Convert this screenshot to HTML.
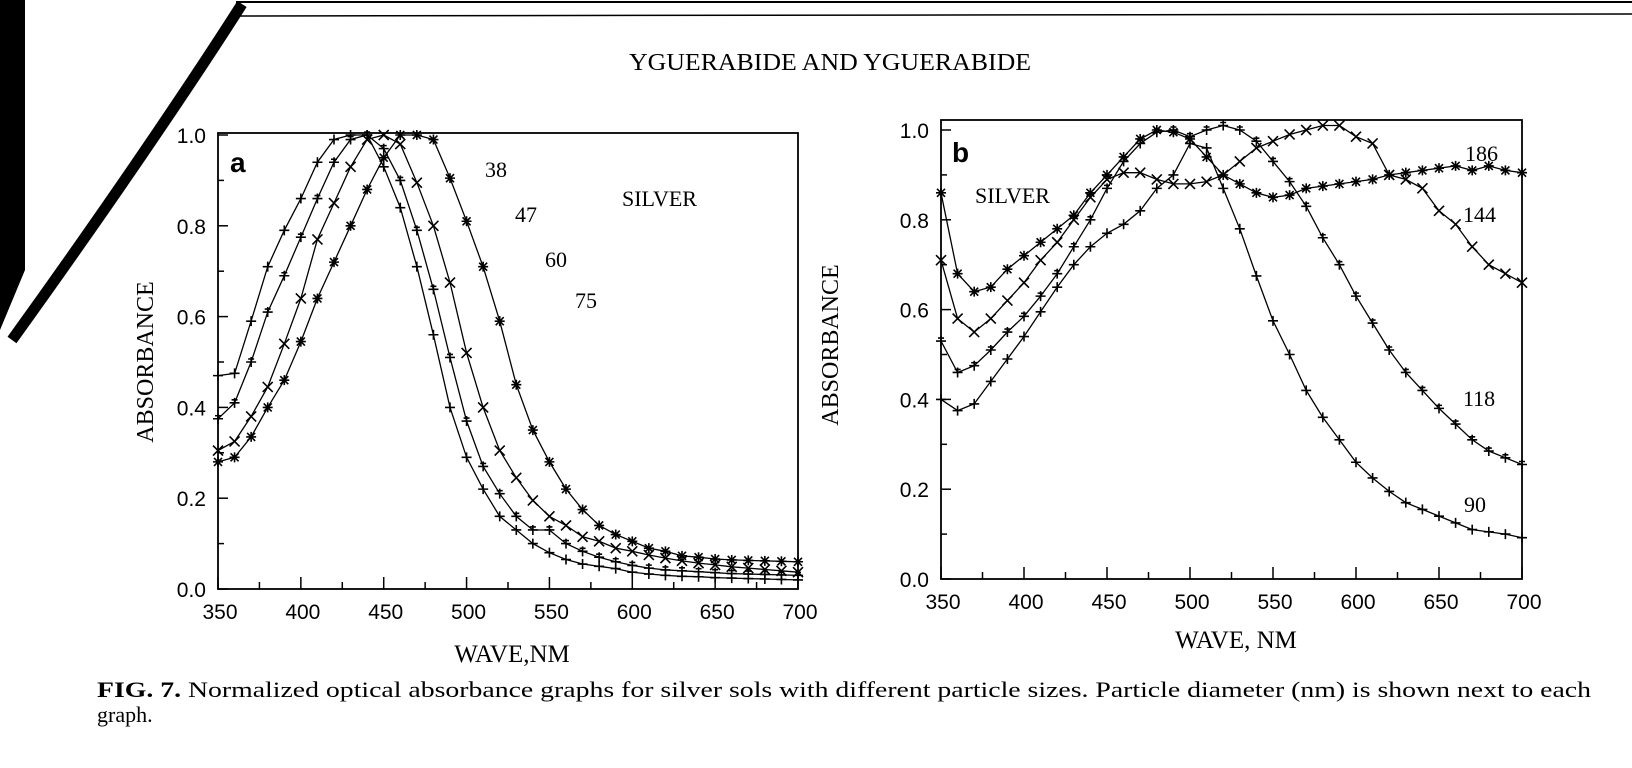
<!DOCTYPE html>
<html><head><meta charset="utf-8"><style>
html,body{margin:0;padding:0;background:#fff;}
svg{display:block;}
.serif{font-family:"Liberation Serif",serif;}
.sans{font-family:"Liberation Sans",sans-serif;}
</style></head><body>
<svg id="s" width="1632" height="768" xmlns="http://www.w3.org/2000/svg">
<rect width="1632" height="768" fill="#fff"/>
<polygon points="0,0 25,0 25,270 0,330" fill="#000"/>
<path d="M242,4 C200,70 120,190 12,340" stroke="#000" stroke-width="11" fill="none"/>
<line x1="236" y1="2" x2="1632" y2="2" stroke="#000" stroke-width="2"/>
<line x1="236" y1="16" x2="1632" y2="14" stroke="#000" stroke-width="1.5"/>
<text x="830" y="70" class="serif" font-size="24" text-anchor="middle" textLength="402" lengthAdjust="spacingAndGlyphs">YGUERABIDE AND YGUERABIDE</text>
<text x="97" y="697" class="serif" font-size="22" textLength="1494" lengthAdjust="spacingAndGlyphs"><tspan font-weight="bold">FIG. 7.</tspan>   Normalized optical absorbance graphs for silver sols with different particle sizes. Particle diameter (nm) is shown next to each</text>
<text x="97" y="722" class="serif" font-size="22">graph.</text>
<g id="g"></g>
</svg>
<script>
var NS="http://www.w3.org/2000/svg",G=document.getElementById('g');
function el(t,a,txt){var e=document.createElementNS(NS,t);for(var k in a)e.setAttribute(k,a[k]);if(txt!=null)e.textContent=txt;G.appendChild(e);return e;}
function mk(type,x,y){var s=5,d='';
 if(type=='+')d='M'+(x-s)+','+y+'h'+2*s+'M'+x+','+(y-s)+'v'+2*s;
 else if(type=='x')d='M'+(x-s)+','+(y-s)+'l'+2*s+','+2*s+'M'+(x-s)+','+(y+s)+'l'+2*s+','+(-2*s);
 else if(type=='p')d='M'+(x-s)+','+y+'h'+2*s+'M'+x+','+(y-s)+'v'+2*s+'M'+(x-3)+','+(y-3)+'h6';
 else d='M'+(x-s)+','+y+'h'+2*s+'M'+(x-4)+','+(y-4)+'l8,8M'+(x-4)+','+(y+4)+'l8,-8M'+x+','+(y-s)+'v'+2*s;
 el('path',{d:d,stroke:'#000','stroke-width':1.6,fill:'none'});}
function plot(P){
 var X=function(w){return P.x0+(w-350)/350*(P.x1-P.x0);},Y=function(v){return P.y0+v*(P.y1-P.y0);};
 el('rect',{x:P.x0,y:P.top,width:P.x1-P.x0,height:P.y0-P.top,fill:'none',stroke:'#000','stroke-width':1.8});
 for(var w=350;w<=700;w+=25){var L=(w%50==0)?12:7;el('line',{x1:X(w),y1:P.y0,x2:X(w),y2:P.y0-L,stroke:'#000','stroke-width':1.5});}
 for(var w=350;w<=700;w+=50)el('text',{x:X(w)+2,y:P.y0+30,'class':'sans','font-size':21,'text-anchor':'middle'},''+w);
 for(var i=0;i<=10;i++){var L=(i%2==0)?10:6;el('line',{x1:P.x0,y1:Y(i/10),x2:P.x0+L,y2:Y(i/10),stroke:'#000','stroke-width':1.5});}
 for(var i=0;i<=5;i++)el('text',{x:P.x0-12,y:Y(i/5)+8,'class':'sans','font-size':21,'text-anchor':'end'},(i/5).toFixed(1));
 P.series.forEach(function(S){var pts=S.v.map(function(v,i){return X(350+10*i).toFixed(1)+','+Y(v).toFixed(1);});
  el('polyline',{points:pts.join(' '),fill:'none',stroke:'#000','stroke-width':1.3});
  S.v.forEach(function(v,i){mk(S.m,X(350+10*i),Y(v));});});
 el('text',{x:P.yl,y:P.ylc,'class':'serif','font-size':24,'text-anchor':'middle',transform:'rotate(-90 '+P.yl+' '+P.ylc+')'},'ABSORBANCE');
 el('text',{x:P.xlc,y:P.xly,'class':'serif','font-size':25,'text-anchor':'middle'},P.xl);
 P.labels.forEach(function(l){el('text',{x:l[0],y:l[1],'class':l[3]||'serif','font-size':l[4]||22,'font-weight':l[5]||'normal'},l[2]);});
}
plot({x0:218,x1:798,y0:589,y1:135,top:133,yl:153,ylc:362,xlc:512,xly:662,xl:'WAVE,NM',
 labels:[[230,172,'a','sans',28,'bold'],[485,177,'38'],[515,222,'47'],[545,267,'60'],[575,308,'75'],[622,206,'SILVER']],
 series:[
 {m:'+',v:[0.47,0.475,0.59,0.71,0.79,0.86,0.94,0.99,1.0,1.0,0.93,0.84,0.71,0.56,0.40,0.29,0.22,0.16,0.13,0.10,0.08,0.065,0.055,0.05,0.045,0.037,0.033,0.03,0.028,0.027,0.025,0.024,0.023,0.022,0.021,0.02]},
 {m:'p',v:[0.375,0.41,0.50,0.61,0.69,0.775,0.86,0.94,0.99,1.0,0.97,0.9,0.79,0.66,0.51,0.37,0.27,0.21,0.16,0.13,0.13,0.10,0.083,0.07,0.06,0.052,0.046,0.042,0.04,0.038,0.036,0.034,0.033,0.032,0.031,0.03]},
 {m:'x',v:[0.305,0.325,0.38,0.445,0.54,0.64,0.77,0.85,0.93,0.99,1.0,0.98,0.895,0.80,0.675,0.52,0.40,0.305,0.245,0.195,0.16,0.14,0.115,0.105,0.09,0.083,0.075,0.068,0.062,0.057,0.053,0.049,0.046,0.043,0.04,0.037]},
 {m:'*',v:[0.28,0.29,0.335,0.40,0.46,0.545,0.64,0.72,0.80,0.88,0.95,1.0,1.0,0.99,0.905,0.81,0.71,0.59,0.45,0.35,0.28,0.22,0.175,0.14,0.12,0.105,0.09,0.083,0.073,0.07,0.066,0.064,0.063,0.062,0.061,0.06]}
 ]});
plot({x0:941,x1:1522,y0:579,y1:130,top:120,yl:838,ylc:345,xlc:1236,xly:648,xl:'WAVE, NM',
 labels:[[952,162,'b','sans',28,'bold'],[975,203,'SILVER'],[1465,161,'186'],[1463,222,'144'],[1463,406,'118'],[1464,512,'90']],
 series:[
 {m:'+',v:[0.40,0.375,0.39,0.44,0.49,0.54,0.595,0.65,0.70,0.74,0.77,0.79,0.82,0.87,0.90,0.97,0.96,0.87,0.78,0.675,0.575,0.50,0.42,0.36,0.31,0.26,0.225,0.195,0.17,0.155,0.14,0.125,0.11,0.105,0.1,0.092]},
 {m:'p',v:[0.53,0.46,0.475,0.51,0.55,0.585,0.63,0.68,0.74,0.80,0.87,0.93,0.97,0.995,1.0,0.985,1.0,1.01,1.0,0.975,0.93,0.885,0.83,0.76,0.70,0.63,0.57,0.51,0.46,0.42,0.38,0.345,0.31,0.285,0.27,0.255]},
 {m:'x',v:[0.71,0.58,0.55,0.58,0.62,0.66,0.71,0.75,0.80,0.85,0.89,0.905,0.905,0.89,0.88,0.88,0.885,0.90,0.93,0.96,0.975,0.99,1.0,1.01,1.01,0.985,0.97,0.90,0.89,0.87,0.82,0.79,0.74,0.70,0.68,0.66]},
 {m:'*',v:[0.86,0.68,0.64,0.65,0.69,0.72,0.75,0.78,0.81,0.86,0.90,0.94,0.98,1.0,0.995,0.98,0.94,0.90,0.88,0.86,0.85,0.855,0.87,0.875,0.88,0.885,0.89,0.90,0.905,0.91,0.915,0.92,0.91,0.92,0.91,0.905]}
 ]});
</script>
</body></html>
